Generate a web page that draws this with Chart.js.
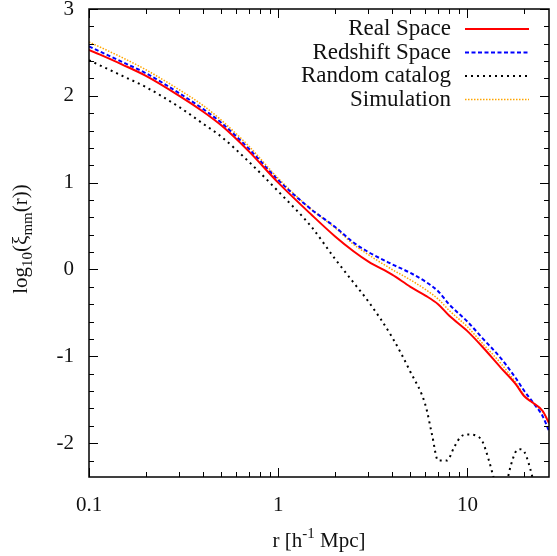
<!DOCTYPE html>
<html lang="en">
<head>
    <meta charset="UTF-8">
    <title>Correlation function</title>
    <script src="https://cdn.jsdelivr.net/npm/chart.js"></script>
    <style>
        body { margin: 0; padding: 0; background: #fff; }
        #wrap { width: 557px; height: 556px; position: relative; }
    </style>
</head>
<body>
    <div id="wrap"><canvas id="xiChart"></canvas></div>
    <script>
        // r values (h^-1 Mpc) shared by the three smooth curves
        const rGrid = [0.1, 0.15, 0.2, 0.3, 0.4, 0.5, 0.7, 1, 1.5, 2, 2.5, 3, 4, 5, 6, 7, 8, 10, 12, 15, 18, 20, 22, 25, 27];
        const realSpace = [2.53, 2.36, 2.23, 2.00, 1.82, 1.66, 1.36, 1.00, 0.63, 0.38, 0.21, 0.09, -0.06, -0.20, -0.30, -0.40, -0.53, -0.71, -0.89, -1.13, -1.32, -1.46, -1.53, -1.63, -1.77];
        const redshiftSpace = [2.57, 2.39, 2.26, 2.03, 1.85, 1.69, 1.39, 1.03, 0.69, 0.49, 0.31, 0.20, 0.06, -0.04, -0.14, -0.25, -0.40, -0.60, -0.79, -1.02, -1.25, -1.40, -1.52, -1.69, -1.86];
        const simulation = [2.62, 2.44, 2.30, 2.07, 1.89, 1.72, 1.42, 1.05, 0.69, 0.48, 0.29, 0.17, 0.00, -0.12, -0.23, -0.34, -0.47, -0.66, -0.85, -1.08, -1.30, -1.45, -1.53, -1.64, -1.76];
        // random catalog has its own r sampling
        const rRandom = [0.1, 0.15, 0.2, 0.3, 0.4, 0.5, 0.7, 1, 1.5, 2, 2.5, 3, 4, 5, 6, 6.5, 7, 7.8, 8.5, 9.2, 10, 11, 12, 13, 14, 15, 16, 17, 18, 19, 20, 21, 22, 23];
        const randomCatalog = [2.41, 2.23, 2.10, 1.87, 1.68, 1.53, 1.24, 0.90, 0.49, 0.12, -0.15, -0.37, -0.78, -1.18, -1.56, -1.90, -2.20, -2.20, -2.05, -1.93, -1.90, -1.91, -1.98, -2.20, -2.45, -2.60, -2.48, -2.25, -2.10, -2.07, -2.10, -2.22, -2.38, -2.55];

        const xMajor = [0.1, 1, 10];
        const yMajor = [-2, -1, 0, 1, 2, 3];
        const labels = ['Real Space', 'Redshift Space', 'Random catalog', 'Simulation'];

        const FONT = "'Liberation Serif', 'DejaVu Serif', serif";

        function pts(xs, ys) {
            return xs.map((x, i) => ({ x: x, y: ys[i] }));
        }

        // gnuplot-like frame, inward ticks, axis titles with sub/superscripts, legend
        const framePlugin = {
            id: 'frame',
            afterDatasetsDraw(chart) {
                const ctx = chart.ctx;
                const a = chart.chartArea;
                const xs = chart.scales.x, ys = chart.scales.y;
                ctx.save();
                ctx.strokeStyle = '#000';
                ctx.lineWidth = 1.5;
                ctx.strokeRect(a.left, a.top, a.right - a.left, a.bottom - a.top);

                ctx.lineWidth = 1;
                ctx.beginPath();
                // x ticks (log, major + minor), bottom and top
                for (let d = -1; d <= 1; d++) {
                    for (let m = 1; m <= 9; m++) {
                        const v = m * Math.pow(10, d);
                        if (v < xs.min || v > xs.max) continue;
                        const px = Math.round(xs.getPixelForValue(v)) + 0.5;
                        const len = m === 1 ? 9 : 5;
                        ctx.moveTo(px, a.bottom); ctx.lineTo(px, a.bottom - len);
                        ctx.moveTo(px, a.top); ctx.lineTo(px, a.top + len);
                    }
                }
                // y ticks every 0.2, left and right
                for (let k = -12; k <= 15; k++) {
                    const v = k / 5;
                    if (v < ys.min || v > ys.max) continue;
                    const py = Math.round(ys.getPixelForValue(v)) + 0.5;
                    const len = k % 5 === 0 ? 9 : 5;
                    ctx.moveTo(a.left, py); ctx.lineTo(a.left + len, py);
                    ctx.moveTo(a.right, py); ctx.lineTo(a.right - len, py);
                }
                ctx.stroke();

                // legend: text right aligned, sample line to the right
                ctx.font = '23px ' + FONT;
                ctx.fillStyle = '#111';
                ctx.textBaseline = 'middle';
                ctx.textAlign = 'right';
                chart.data.datasets.forEach((ds, i) => {
                    const y = 29 + i * 23.5;
                    ctx.fillText(ds.label, 451, y);
                    ctx.save();
                    ctx.strokeStyle = ds.borderColor;
                    ctx.lineWidth = ds.borderWidth;
                    ctx.setLineDash(ds.borderDash || []);
                    ctx.beginPath();
                    ctx.moveTo(465, y); ctx.lineTo(529, y);
                    ctx.stroke();
                    ctx.restore();
                });

                // x axis title: r [h^-1 Mpc]
                const cx = (a.left + a.right) / 2;
                const base = 547;
                const parts = [
                    { t: 'r [h', f: 21, dy: 0 },
                    { t: '-1', f: 15, dy: -9 },
                    { t: ' Mpc]', f: 21, dy: 0 }
                ];
                let w = 0;
                parts.forEach(p => { ctx.font = p.f + 'px ' + FONT; p.w = ctx.measureText(p.t).width; w += p.w; });
                ctx.textAlign = 'left';
                ctx.textBaseline = 'alphabetic';
                let x = cx - w / 2;
                parts.forEach(p => { ctx.font = p.f + 'px ' + FONT; ctx.fillText(p.t, x, base + p.dy); x += p.w; });

                // y axis title: log10(xi_mm(r)), rotated
                const yparts = [
                    { t: 'log', f: 21, dy: 0 },
                    { t: '10', f: 15, dy: 5 },
                    { t: '(\u03BE', f: 21, dy: 0 },
                    { t: 'mm', f: 15, dy: 5 },
                    { t: '(r))', f: 21, dy: 0 }
                ];
                w = 0;
                yparts.forEach(p => { ctx.font = p.f + 'px ' + FONT; p.w = ctx.measureText(p.t).width; w += p.w; });
                ctx.translate(27, (a.top + a.bottom) / 2 - 4);
                ctx.rotate(-Math.PI / 2);
                x = -w / 2;
                yparts.forEach(p => { ctx.font = p.f + 'px ' + FONT; ctx.fillText(p.t, x, p.dy); x += p.w; });
                ctx.restore();
            }
        };

        const xiChart = new Chart(document.getElementById('xiChart').getContext('2d'), {
            type: 'line',
            data: {
                datasets: [
                    {
                        label: labels[0],
                        data: pts(rGrid, realSpace),
                        borderColor: '#ff0000',
                        borderWidth: 2,
                        pointRadius: 0,
                        cubicInterpolationMode: 'monotone',
                        fill: false
                    },
                    {
                        label: labels[1],
                        data: pts(rGrid, redshiftSpace),
                        borderColor: '#0000ff',
                        borderWidth: 2,
                        borderDash: [4, 2.5],
                        pointRadius: 0,
                        cubicInterpolationMode: 'monotone',
                        fill: false
                    },
                    {
                        label: labels[2],
                        data: pts(rRandom, randomCatalog),
                        borderColor: '#000000',
                        borderWidth: 2,
                        borderDash: [2, 4],
                        pointRadius: 0,
                        cubicInterpolationMode: 'monotone',
                        fill: false
                    },
                    {
                        label: labels[3],
                        data: pts(rGrid, simulation),
                        borderColor: '#ffa500',
                        borderWidth: 1.5,
                        borderDash: [1.5, 1.5],
                        pointRadius: 0,
                        cubicInterpolationMode: 'monotone',
                        fill: false
                    }
                ]
            },
            options: {
                responsive: true,
                maintainAspectRatio: false,
                animation: false,
                layout: { padding: { left: 0, right: 8, top: 9, bottom: 0 } },
                plugins: {
                    legend: { display: false },
                    tooltip: { enabled: false }
                },
                scales: {
                    x: {
                        type: 'logarithmic',
                        min: 0.1,
                        max: 27,
                        grid: { display: false, drawTicks: false },
                        border: { display: false },
                        afterBuildTicks: s => { s.ticks = xMajor.map(v => ({ value: v })); },
                        afterFit: s => { s.height = 79; s.paddingLeft = 0; s.paddingRight = 0; },
                        ticks: {
                            autoSkip: false,
                            maxRotation: 0,
                            padding: 16,
                            color: '#111',
                            font: { family: FONT, size: 21 },
                            callback: v => String(v)
                        }
                    },
                    y: {
                        min: -2.39,
                        max: 3,
                        grid: { display: false, drawTicks: false },
                        border: { display: false },
                        afterBuildTicks: s => { s.ticks = yMajor.map(v => ({ value: v })); },
                        afterFit: s => { s.width = 89; s.paddingTop = 0; s.paddingBottom = 0; },
                        ticks: {
                            padding: 15,
                            color: '#111',
                            font: { family: FONT, size: 21 },
                            callback: v => String(v)
                        }
                    }
                }
            },
            plugins: [framePlugin]
        });
    </script>
</body>
</html>
